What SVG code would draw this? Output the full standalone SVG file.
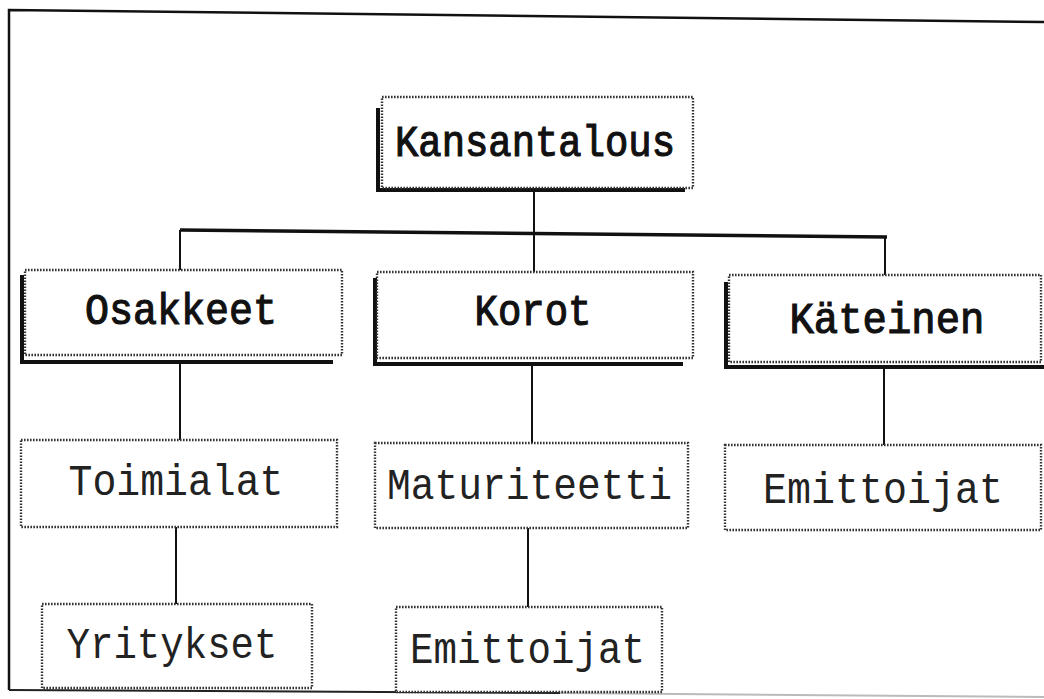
<svg xmlns="http://www.w3.org/2000/svg" width="1044" height="699" viewBox="0 0 1044 699">
<style>
.box{fill:#fff;stroke:#333;stroke-width:2.4;stroke-dasharray:1.6 1.4}
.sh{stroke:#111;stroke-width:4;fill:none}
.ln{stroke:#111;stroke-width:2;fill:none}
.frame{stroke:#111;stroke-width:2.5;fill:none}
.tb{font-family:"Liberation Mono","Courier New",monospace;font-size:45px;fill:#111;stroke:#111;stroke-width:1.2;text-anchor:middle}
.tn{font-family:"Liberation Mono","Courier New",monospace;font-size:45px;fill:#222;text-anchor:middle}
</style>
<rect width="1044" height="699" fill="#fff"/>
<g id="frame">
<path class="frame" d="M9,690 L9,10 L1044,22"/>
<path d="M9,690 L560,693" stroke="#222" stroke-width="2" fill="none"/>
<path d="M560,693 L1044,697" stroke="#bbb" stroke-width="2" fill="none"/>
</g>
<g id="connectors">
<path class="ln" d="M534,190 L534,233"/>
<path d="M180,230 L887,237" stroke="#111" stroke-width="3.5" fill="none"/>
<path class="ln" d="M180,230 L180,270"/>
<path class="ln" d="M534,233 L534,272"/>
<path class="ln" d="M885,237 L885,275"/>
<path class="ln" d="M180,363 L180,440"/>
<path class="ln" d="M532,365 L532,443"/>
<path class="ln" d="M884,368 L884,445"/>
<path class="ln" d="M176,527 L176,604"/>
<path class="ln" d="M528,528 L528,607"/>
</g>
<g id="n-kansantalous">
<path class="sh" d="M378,108 L378,190 L685,190"/>
<rect class="box" x="382" y="97" width="311" height="91"/>
<text class="tb" x="535" y="156" textLength="280" lengthAdjust="spacingAndGlyphs">Kansantalous</text>
</g>
<g id="n-osakkeet">
<path class="sh" d="M22,275 L22,362 L333,362"/>
<rect class="box" x="25" y="270" width="317" height="85"/>
<text class="tb" x="181" y="324" textLength="192" lengthAdjust="spacingAndGlyphs">Osakkeet</text>
</g>
<g id="n-korot">
<path class="sh" d="M375,278 L375,364 L683,364"/>
<rect class="box" x="377" y="272" width="316" height="86"/>
<text class="tb" x="533" y="325" textLength="117" lengthAdjust="spacingAndGlyphs">Korot</text>
</g>
<g id="n-kateinen">
<path class="sh" d="M726,282 L726,367 L1044,367"/>
<rect class="box" x="729" y="275" width="312" height="87"/>
<text class="tb" x="887" y="333" textLength="195" lengthAdjust="spacingAndGlyphs">Käteinen</text>
</g>
<g id="n-toimialat">
<rect class="box" x="21" y="440" width="316" height="87"/>
<text class="tn" x="176" y="495" textLength="215" lengthAdjust="spacingAndGlyphs">Toimialat</text>
</g>
<g id="n-maturiteetti">
<rect class="box" x="375" y="443" width="313" height="85"/>
<text class="tn" x="529.5" y="499" textLength="285" lengthAdjust="spacingAndGlyphs">Maturiteetti</text>
</g>
<g id="n-emittoijat-1">
<rect class="box" x="725" y="445" width="316" height="85"/>
<text class="tn" x="883" y="503" textLength="240" lengthAdjust="spacingAndGlyphs">Emittoijat</text>
</g>
<g id="n-yritykset">
<rect class="box" x="42" y="604" width="270" height="84"/>
<text class="tn" x="172" y="658" textLength="211" lengthAdjust="spacingAndGlyphs">Yritykset</text>
</g>
<g id="n-emittoijat-2">
<rect class="box" x="396" y="607" width="266" height="85"/>
<text class="tn" x="527.5" y="663" textLength="235" lengthAdjust="spacingAndGlyphs">Emittoijat</text>
</g>
</svg>
